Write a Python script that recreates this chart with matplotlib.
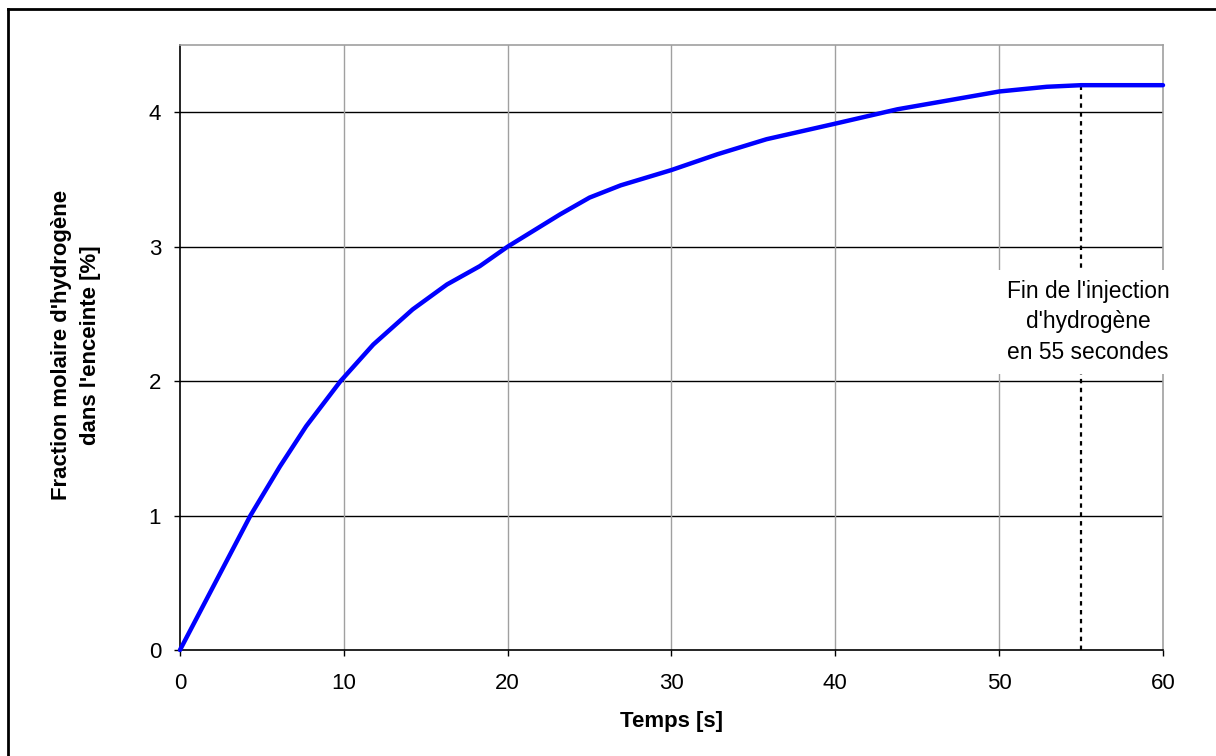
import matplotlib.pyplot as plt
from matplotlib.lines import Line2D

plt.rcParams['font.family'] = ['Liberation Sans', 'DejaVu Sans']

# data
temps = [0, 4.3, 6.1, 7.7, 9.8, 11.8, 14.2, 16.3, 18.3, 20, 23.2, 25, 26.9,
         30, 32.8, 35.8, 40, 43.8, 47, 50, 52.9, 55, 60]
fraction = [0, 1.0, 1.365, 1.664, 2.0, 2.272, 2.533, 2.719, 2.855, 3.0, 3.24,
            3.365, 3.456, 3.57, 3.687, 3.799, 3.915, 4.022, 4.09, 4.154,
            4.189, 4.201, 4.201]
t_fin = 55
xticks = [0, 10, 20, 30, 40, 50, 60]
yticks = [0, 1, 2, 3, 4]

fig = plt.figure(figsize=(12.16, 7.56), dpi=100)
ax = fig.add_axes([0.148, 0.1402, 0.8084, 0.8003])

# grid: black horizontal, grey vertical
for yv in yticks[1:]:
    ax.axhline(yv, color='black', lw=1, zorder=1)
for xv in xticks[1:-1]:
    ax.axvline(xv, color='#a0a0a0', lw=1, zorder=1)

ax.plot(temps, fraction, color='#0000ff', lw=3.2, zorder=3,
        solid_capstyle='round', solid_joinstyle='round', clip_on=False)

# end of injection marker
y_fin = fraction[temps.index(t_fin)]
ax.plot([t_fin, t_fin], [0, y_fin], color='black', lw=1.6,
        linestyle=(0, (2, 2)), zorder=2)
ax.text(55.42, 2.44, "Fin de l'injection\nd'hydrogène\nen 55 secondes",
        ha='center', va='center', fontsize=16.4, linespacing=1.4,
        bbox=dict(facecolor='white', edgecolor='none', pad=7.5), zorder=5,
        clip_on=False)

ax.set_xlim(0, 60)
ax.set_ylim(0, 4.5)
ax.set_xticks(xticks)
ax.set_yticks(yticks)
ax.tick_params(direction='out', length=4.5, width=1, labelsize=16,
               colors='black')
ax.tick_params(axis='x', pad=12)
ax.tick_params(axis='y', pad=9)

ax.spines['left'].set_color('black')
ax.spines['bottom'].set_color('black')
ax.spines['top'].set_color('#a0a0a0')
ax.spines['right'].set_color('#a0a0a0')
for s in ax.spines.values():
    s.set_linewidth(1.2)

fig.text(671 / 1216, 1 - 722 / 756, 'Temps [s]', ha='center', va='center',
         fontsize=16, fontweight='bold')
fig.text(76 / 1216, 1 - 345 / 756,
         "Fraction molaire d'hydrogène\ndans l'enceinte [%]",
         ha='center', va='center', rotation=90, fontsize=15.9,
         fontweight='bold', linespacing=1.45)

# outer frame (left and top edges visible)
fig.add_artist(Line2D([7.5 / 1216, 7.5 / 1216], [0, 1 - 8.5 / 756],
                      color='black', lw=2, transform=fig.transFigure))
fig.add_artist(Line2D([7.5 / 1216, 1], [1 - 8.5 / 756, 1 - 8.5 / 756],
                      color='black', lw=2, transform=fig.transFigure))

fig.savefig('out.png', dpi=100)
